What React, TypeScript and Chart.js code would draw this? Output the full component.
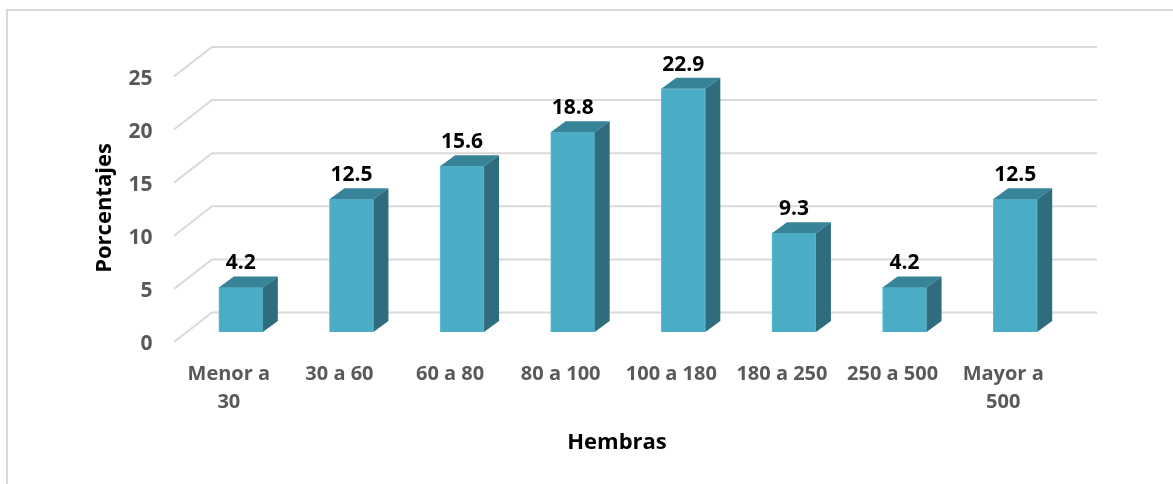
import React, { useEffect, useRef } from "react";
import { Chart, registerables } from "chart.js";

Chart.register(...registerables);

const categories: (string | string[])[] = [
  ["Menor a", "30"],
  "30 a 60",
  "60 a 80",
  "80 a 100",
  "100 a 180",
  "180 a 250",
  "250 a 500",
  ["Mayor a", "500"],
];
const porcentajes = [4.2, 12.5, 15.6, 18.8, 22.9, 9.3, 4.2, 12.5];
const yTitle = "Porcentajes";
const xTitle = "Hembras";
const FONT = "'Open Sans', Lato, sans-serif";

const DX = 15;
const DY = 11;
const BACK_X = 26.5;
const BACK_Y = 19.5;

const threeD = {
  id: "threeD",
  beforeDatasetsDraw(chart: any) {
    const { ctx, chartArea: a, scales } = chart;
    ctx.save();
    ctx.strokeStyle = "#DADADA";
    ctx.lineWidth = 2;
    scales.y.ticks.forEach((t: any) => {
      const y = scales.y.getPixelForValue(t.value);
      ctx.beginPath();
      ctx.moveTo(a.left - 11.5, y + 10);
      ctx.lineTo(a.left + BACK_X, y - BACK_Y);
      ctx.lineTo(a.right + BACK_X, y - BACK_Y);
      ctx.stroke();
    });
    ctx.restore();
  },
  afterDatasetsDraw(chart: any) {
    const { ctx } = chart;
    const meta = chart.getDatasetMeta(0);
    ctx.save();
    meta.data.forEach((bar: any, i: number) => {
      const l = bar.x - bar.width / 2;
      const r = bar.x + bar.width / 2;
      const t = bar.y;
      const b = bar.base;
      ctx.fillStyle = "#378398";
      ctx.beginPath();
      ctx.moveTo(l, t);
      ctx.lineTo(l + DX, t - DY);
      ctx.lineTo(r + DX, t - DY);
      ctx.lineTo(r, t);
      ctx.closePath();
      ctx.fill();
      ctx.fillStyle = "#2F6C7D";
      ctx.beginPath();
      ctx.moveTo(r, t);
      ctx.lineTo(r + DX, t - DY);
      ctx.lineTo(r + DX, b - DY);
      ctx.lineTo(r, b);
      ctx.closePath();
      ctx.fill();
      ctx.fillStyle = "#000000";
      ctx.font = `bold 21px ${FONT}`;
      ctx.textAlign = "center";
      ctx.textBaseline = "middle";
      ctx.fillText(String(porcentajes[i]), bar.x, t - 24);
    });
    ctx.fillStyle = "#000000";
    ctx.font = `bold 22px ${FONT}`;
    ctx.textAlign = "center";
    ctx.textBaseline = "middle";
    ctx.fillText(xTitle, 617, 443);
    ctx.translate(105, 208);
    ctx.rotate(-Math.PI / 2);
    ctx.fillText(yTitle, 0, 0);
    ctx.restore();
  },
};

export default function App() {
  const ref = useRef<HTMLCanvasElement>(null);
  useEffect(() => {
    const chart = new Chart(ref.current!, {
      type: "bar",
      data: {
        labels: categories,
        datasets: [
          {
            data: porcentajes,
            backgroundColor: "#4BACC6",
            borderColor: "#62BCD2",
            borderWidth: 1,
            barThickness: 44,
          },
        ],
      },
      options: {
        animation: false,
        responsive: false,
        layout: { padding: { top: 66.4, right: 102.5, left: 0, bottom: 0 } },
        plugins: { legend: { display: false }, tooltip: { enabled: false } },
        scales: {
          x: {
            grid: { display: false },
            border: { display: false },
            afterFit: (s: any) => {
              s.height = 152;
            },
            ticks: {
              padding: 20,
              maxRotation: 0,
              autoSkip: false,
              labelOffset: -12,
              color: "#595959",
              font: { family: FONT, size: 20, weight: "bold", lineHeight: 1.4 },
            },
          },
          y: {
            min: 0,
            max: 25,
            afterFit: (s: any) => {
              s.width = 185.5;
            },
            grid: { display: false },
            border: { display: false },
            ticks: {
              stepSize: 5,
              padding: 25,
              labelOffset: 12.5,
              color: "#595959",
              font: { family: FONT, size: 21, weight: "bold" },
            },
          },
        },
      },
      plugins: [threeD],
    } as any);
    return () => chart.destroy();
  }, []);
  return (
    <div style={{ position: "absolute", left: 0, top: 0, width: 1173, height: 484, background: "#fff", overflow: "hidden" }}>
      <div
        style={{
          position: "absolute",
          left: 6,
          top: 9,
          right: -4,
          bottom: -4,
          borderLeft: "2px solid #D9D9D9",
          borderTop: "2px solid #D9D9D9",
        }}
      />
      <canvas ref={ref} width={1173} height={484} style={{ position: "absolute", left: 0, top: 0 }} />
    </div>
  );
}
